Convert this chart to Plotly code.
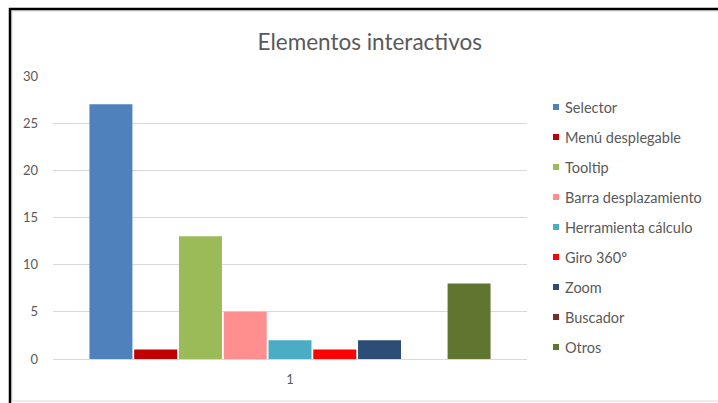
import plotly.graph_objects as go

# Survey counts of interactive elements, one series per element type
categories = ["1"]
series_names = [
    "Selector", "Menú desplegable", "Tooltip", "Barra desplazamiento",
    "Herramienta cálculo", "Giro 360º", "Zoom", "Buscador", "Otros",
]
series_values = [27, 1, 13, 5, 2, 1, 2, 0, 8]
series_colors = [
    "#4F81BD", "#C00000", "#9BBB59", "#FF8F8F",
    "#4BACC6", "#FF0000", "#2C4D75", "#772C2A", "#5F7530",
]
y_ticks = [0, 5, 10, 15, 20, 25, 30]

W, H = 718, 403
L, R, T, B = 53, 527, 76, 359  # plot area in pixels

fig = go.Figure()
for name, val, col in zip(series_names, series_values, series_colors):
    fig.add_trace(go.Bar(
        x=categories, y=[val], name=name, marker_color=col,
        marker_line_width=0, showlegend=False,
    ))


def px_x(px):
    return (px - L) / (R - L)


def px_y(py):
    return (B - py) / (B - T)


shapes = [
    # outer chart border (light grey)
    dict(type="rect", xref="paper", yref="paper",
         x0=px_x(12), x1=px_x(760), y0=px_y(401), y1=px_y(11),
         line=dict(color="#D9D9D9", width=1), layer="below"),
    # dark frame on top and left
    dict(type="line", xref="paper", yref="paper",
         x0=px_x(9), x1=px_x(760), y0=px_y(9), y1=px_y(9),
         line=dict(color="black", width=2.5)),
    dict(type="line", xref="paper", yref="paper",
         x0=px_x(10), x1=px_x(10), y0=px_y(8), y1=px_y(420),
         line=dict(color="black", width=2.5)),
]

# Legend: small colour keys with labels, stacked on the right
annotations = []
LEG_KEY_X, LEG_TEXT_X, LEG_TOP, LEG_STEP, KEY = 553, 563, 107, 30, 6
for i, (name, col) in enumerate(zip(series_names, series_colors)):
    cy = LEG_TOP + i * LEG_STEP
    shapes.append(dict(
        type="rect", xref="paper", yref="paper",
        x0=px_x(LEG_KEY_X), x1=px_x(LEG_KEY_X + KEY),
        y0=px_y(cy + KEY / 2), y1=px_y(cy - KEY / 2),
        fillcolor=col, line=dict(width=0),
    ))
    annotations.append(dict(
        text=name, xref="paper", yref="paper",
        x=px_x(LEG_TEXT_X), y=px_y(cy), xanchor="left", yanchor="middle",
        showarrow=False, font=dict(size=14.5, color="#595959"),
    ))

fig.update_layout(
    width=W, height=H,
    margin=dict(l=L, r=W - R, t=T, b=H - B, pad=0),
    paper_bgcolor="white", plot_bgcolor="white",
    barmode="group", bargap=0.15, bargroupgap=0.04,
    showlegend=False,
    font=dict(family="Lato, Carlito, sans-serif", color="#595959"),
    title=dict(text="Elementos interactivos", x=0.515, xanchor="center",
               y=1 - 42 / H, yanchor="middle",
               font=dict(size=22.5, color="#595959")),
    xaxis=dict(type="category", showgrid=False, showline=False,
               tickfont=dict(size=13), ticks="", ticklabelstandoff=11),
    yaxis=dict(range=[0, 30], tickvals=y_ticks, showgrid=True,
               gridcolor="#D9D9D9", gridwidth=1, zeroline=True,
               zerolinecolor="#D9D9D9", zerolinewidth=1,
               tickfont=dict(size=13), ticks="", ticklabelstandoff=14),
    shapes=shapes,
    annotations=annotations,
)

fig.write_html("out.html")
